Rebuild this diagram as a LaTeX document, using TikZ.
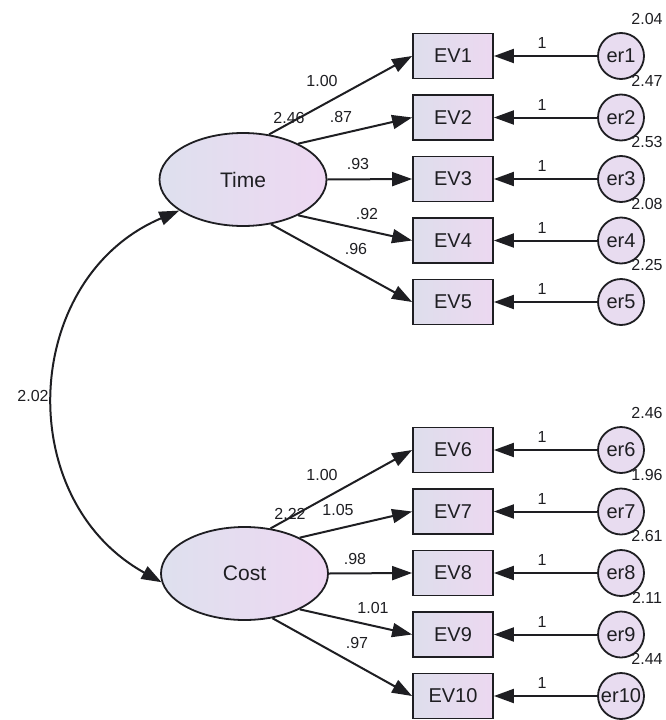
\documentclass[tikz,border=0pt]{standalone}
\usepackage{fontspec}
\setmainfont{Liberation Sans}
\usetikzlibrary{arrows.meta,shapes.geometric}
\definecolor{boxL}{RGB}{222,222,236}
\definecolor{boxR}{RGB}{236,216,240}
\definecolor{ellL}{RGB}{222,224,238}
\definecolor{ellR}{RGB}{238,216,242}
\definecolor{errFill}{RGB}{232,220,240}
\definecolor{ink}{RGB}{30,30,34}
\begin{document}
\begin{tikzpicture}[x=1pt,y=-1pt,
  indicator/.style={draw=ink, line width=1.8pt, minimum width=80pt, minimum height=45pt,
    inner sep=0pt, left color=boxL, right color=boxR, text=ink,
    font=\fontsize{20}{20}\selectfont},
  latent/.style={ellipse, draw=ink, line width=1.8pt, minimum width=167pt, minimum height=93pt,
    inner sep=0pt, left color=ellL, right color=ellR, text=ink,
    font=\fontsize{21}{21}\selectfont},
  errc/.style={circle, draw=ink, line width=1.8pt, minimum size=46pt, inner sep=0pt,
    fill=errFill, text=ink, font=\fontsize{20}{20}\selectfont},
  pathline/.style={draw=ink, line width=2pt, -{Triangle[length=20pt,width=14pt]}},
  covline/.style={draw=ink, line width=2pt,
    {Triangle[length=20pt,width=14pt]}-{Triangle[length=20pt,width=14pt]}},
  est/.style={inner sep=0pt, text=ink, font=\fontsize{16}{16}\selectfont}
]
\useasboundingbox (0,0) rectangle (665,720);

% latent factors
\node[latent] (time) at (243,179.5) {Time};
\node[latent] (cost) at (244.5,573.5) {Cost};

% indicators with their error terms
\foreach \i/\y/\v in {1/56/2.04, 2/117.5/2.47, 3/179/2.53, 4/240.5/2.08, 5/302/2.25,
                      6/450/2.46, 7/511.5/1.96, 8/573/2.61, 9/634.5/2.11, 10/696/2.44} {
  \node[indicator] (ev\i) at (453,\y) {EV\i};
  \node[errc] (er\i) at (621,\y) {er\i};
  \draw[pathline] (er\i) -- (ev\i);
  \node[est] (one\i) at (542,\y-13) {1};
  \node[est] (var\i) at (647,\y-37) {\v};
}

% loadings of Time
\draw[pathline] (time.60)  -- (ev1.west);
\draw[pathline] (time.33)  -- (ev2.west);
\draw[pathline] (time.0)   -- (ev3.west);
\draw[pathline] (time.-33) -- (ev4.west);
\draw[pathline] (time.-58) -- (ev5.west);

% loadings of Cost
\draw[pathline] (cost.60)  -- (ev6.west);
\draw[pathline] (cost.33)  -- (ev7.west);
\draw[pathline] (cost.0)   -- (ev8.west);
\draw[pathline] (cost.-33) -- (ev9.west);
\draw[pathline] (cost.-58) -- (ev10.west);

% estimates on the Time side
\node[est] (ltime1) at (322,81)  {1.00};
\node[est] (ltime2) at (341,117) {.87};
\node[est] (ltime3) at (358,164) {.93};
\node[est] (ltime4) at (367,214) {.92};
\node[est] (ltime5) at (356,249) {.96};
\node[est] (vtime)  at (289,118) {2.46};

% estimates on the Cost side
\node[est] (lcost1) at (322,475) {1.00};
\node[est] (lcost2) at (338,510) {1.05};
\node[est] (lcost3) at (355,559) {.98};
\node[est] (lcost4) at (373,608) {1.01};
\node[est] (lcost5) at (357,643) {.97};
\node[est] (vcost)  at (290,514) {2.22};

% covariance between the factors
\draw[covline] (time.206) to[out=203,in=151,looseness=1.18] (cost.186);
\node[est] (cov) at (33,396) {2.02};
\end{tikzpicture}
\end{document}
